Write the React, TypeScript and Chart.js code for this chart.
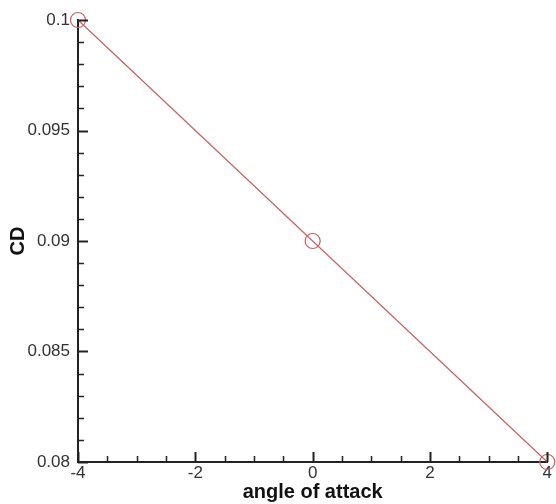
import React, { useEffect, useRef } from "react";
import { Chart, registerables } from "chart.js";

Chart.register(...registerables);

const angleValues = [-4, 0, 4];
const cdValues = [0.1, 0.09, 0.08];
const xTickValues = [-4, -2, 0, 2, 4];
const xTickLabels = ["-4", "-2", "0", "2", "4"];
const yTickValues = [0.08, 0.085, 0.09, 0.095, 0.1];
const yTickLabels = ["0.08", "0.085", "0.09", "0.095", "0.1"];
const xMinorStep = 0.5;
const yMinorStep = 0.001;

const LINE_COLOR = "#c66262";

const insideTicks = {
  id: "insideTicks",
  afterDatasetsDraw(chart: any) {
    const { ctx, chartArea, scales } = chart;
    const xs = scales.x;
    const ys = scales.y;
    ctx.save();
    ctx.strokeStyle = "#222";
    ctx.lineWidth = 1.5;
    const drawX = (v: number, len: number) => {
      const p = Math.round(xs.getPixelForValue(v)) + 0.5;
      ctx.beginPath();
      ctx.moveTo(p, chartArea.bottom);
      ctx.lineTo(p, chartArea.bottom - len);
      ctx.stroke();
    };
    const drawY = (v: number, len: number) => {
      const p = Math.round(ys.getPixelForValue(v)) + 0.5;
      ctx.beginPath();
      ctx.moveTo(chartArea.left, p);
      ctx.lineTo(chartArea.left + len, p);
      ctx.stroke();
    };
    for (let i = 0; i < xTickValues.length - 1; i++) {
      for (let v = xTickValues[i] + xMinorStep; v < xTickValues[i + 1] - 1e-9; v += xMinorStep) drawX(v, 6);
    }
    for (let i = 0; i < yTickValues.length - 1; i++) {
      for (let v = yTickValues[i] + yMinorStep; v < yTickValues[i + 1] - 1e-9; v += yMinorStep) drawY(v, 6);
    }
    ctx.lineWidth = 2;
    xTickValues.forEach((v) => drawX(v, 10));
    yTickValues.forEach((v) => drawY(v, 10));
    ctx.restore();
  },
};

export default function App() {
  const ref = useRef<HTMLCanvasElement>(null);
  useEffect(() => {
    if (!ref.current) return;
    const chart = new Chart(ref.current, {
      type: "scatter",
      data: {
        datasets: [
          {
            data: angleValues.map((a, i) => ({ x: a, y: cdValues[i] })),
            showLine: true,
            borderColor: LINE_COLOR,
            borderWidth: 1.2,
            backgroundColor: "rgba(0,0,0,0)",
            pointRadius: 7.5,
            pointBorderColor: LINE_COLOR,
            pointBorderWidth: 1.2,
            pointBackgroundColor: "rgba(0,0,0,0)",
            clip: false,
          } as any,
        ],
      },
      options: {
        animation: false,
        responsive: false,
        maintainAspectRatio: false,
        layout: { padding: { top: 20, right: 8, bottom: 0, left: 0 } },
        plugins: { legend: { display: false }, tooltip: { enabled: false } },
        scales: {
          x: {
            type: "linear",
            min: -4,
            max: 4,
            afterBuildTicks: (s: any) => {
              s.ticks = xTickValues.map((v) => ({ value: v }));
            },
            afterFit: (s: any) => {
              s.height = 42;
            },
            grid: { display: false, drawTicks: false },
            border: { display: true, color: "#222", width: 2 },
            ticks: {
              padding: 1,
              color: "#333",
              font: { family: "'Liberation Sans', Arial, sans-serif", size: 17 },
              maxRotation: 0,
              callback: (v: any) => {
                const i = xTickValues.indexOf(Number(v));
                return i >= 0 ? xTickLabels[i] : "";
              },
            },
            title: {
              display: true,
              text: "angle of attack",
              color: "#111",
              padding: { top: 0, bottom: 0 },
              font: { family: "'Liberation Sans', Arial, sans-serif", size: 20, weight: "bold" },
            },
          },
          y: {
            type: "linear",
            min: 0.08,
            max: 0.1,
            afterBuildTicks: (s: any) => {
              s.ticks = yTickValues.map((v) => ({ value: v }));
            },
            afterFit: (s: any) => {
              s.width = 78;
            },
            grid: { display: false, drawTicks: false },
            border: { display: true, color: "#222", width: 2 },
            ticks: {
              padding: 8,
              color: "#333",
              font: { family: "'Liberation Sans', Arial, sans-serif", size: 17 },
              callback: (v: any) => {
                const i = yTickValues.findIndex((t) => Math.abs(t - Number(v)) < 1e-9);
                return i >= 0 ? yTickLabels[i] : "";
              },
            },
            title: {
              display: true,
              text: "CD",
              color: "#111",
              padding: { top: 6, bottom: 0 },
              font: { family: "'Liberation Sans', Arial, sans-serif", size: 20, weight: "bold" },
            },
          },
        },
      } as any,
      plugins: [insideTicks],
    });
    return () => chart.destroy();
  }, []);
  return (
    <div style={{ position: "fixed", left: 0, top: 0, width: 556, height: 504, background: "#fff" }}>
      <canvas ref={ref} width={556} height={504} style={{ width: 556, height: 504, display: "block" }} />
    </div>
  );
}
